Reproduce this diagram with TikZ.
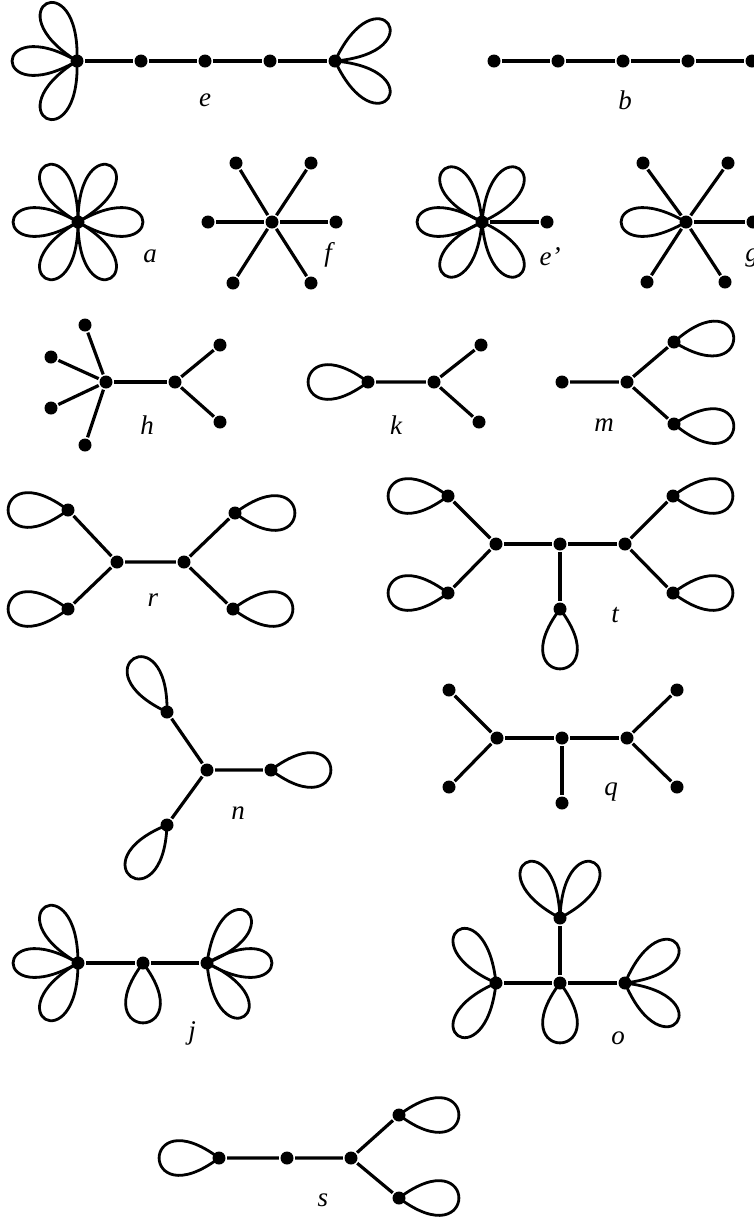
\documentclass[tikz,border=0pt]{standalone}
\usepackage{fontspec}
\setmainfont{Liberation Serif}
% loop at a vertex: [spread]{vertex}{direction}
\newcommand{\lp}[3][30]{\draw[loopline] (#2.center) .. controls +(#3-#1:100) and +(#3+#1:100) .. (#2.center);}

\begin{document}
\begin{tikzpicture}[
    x=0.5pt, y=0.5pt, line width=1.6pt,
    vtx/.style={circle, fill, inner sep=0pt, minimum size=6.5pt},
    loopline/.style={line width=1.4pt},
    lbl/.style={inner sep=0pt, font=\fontsize{13.5}{16}\selectfont\itshape}
  ]
  \useasboundingbox (0,0) rectangle (754,-1217);

  % e
  \foreach \x [count=\i] in {77,141,205,270,335} \node[vtx] (e\i) at (\x,-61) {};
  \draw (e1) -- (e2) -- (e3) -- (e4) -- (e5);
  \foreach \a in {118,180,242} {\lp{e1}{\a}}
  \lp{e5}{35} \lp{e5}{-35}
  \node[lbl] (le) at (205,-100) {e};

  % b
  \foreach \x [count=\i] in {494,558,623,688,752} \node[vtx] (b\i) at (\x,-61) {};
  \draw (b1) -- (b2) -- (b3) -- (b4) -- (b5);
  \node[lbl] (lb) at (625,-100) {b};

  % a
  \node[vtx] (a0) at (78,-222) {};
  \foreach \a in {0,60,...,300} {\lp{a0}{\a}}
  \node[lbl] (la) at (150,-256) {a};

  % f
  \node[vtx] (f0) at (272,-222) {};
  \node[vtx] (f1) at (208,-222) {};
  \node[vtx] (f2) at (336,-222) {};
  \node[vtx] (f3) at (236,-163) {};
  \node[vtx] (f4) at (311,-163) {};
  \node[vtx] (f5) at (233,-283) {};
  \node[vtx] (f6) at (311,-283) {};
  \foreach \i in {1,...,6} \draw (f0) -- (f\i);
  \node[lbl] (lf) at (328,-255) {f};

  % e'
  \node[vtx] (ep0) at (482,-222) {};
  \node[vtx] (ep1) at (547,-222) {};
  \draw (ep0) -- (ep1);
  \foreach \a in {55,125,180,235,305} {\lp{ep0}{\a}}
  \node[lbl] (lep) at (550,-257) {e’};

  % g
  \node[vtx] (g0) at (686,-222) {};
  \node[vtx] (g1) at (643,-163) {};
  \node[vtx] (g2) at (728,-163) {};
  \node[vtx] (g3) at (647,-282) {};
  \node[vtx] (g4) at (725,-282) {};
  \node[vtx] (g5) at (753,-222) {};
  \foreach \i in {1,...,5} \draw (g0) -- (g\i);
  \lp{g0}{180}
  \node[lbl] (lg) at (752,-258) {g};

  % h
  \node[vtx] (h0) at (106,-382) {};
  \node[vtx] (h1) at (175,-382) {};
  \node[vtx] (h2) at (85,-325) {};
  \node[vtx] (h3) at (51,-357) {};
  \node[vtx] (h4) at (51,-408) {};
  \node[vtx] (h5) at (85,-445) {};
  \node[vtx] (h6) at (220,-345) {};
  \node[vtx] (h7) at (220,-422) {};
  \draw (h0) -- (h1);
  \foreach \i in {2,...,5} \draw (h0) -- (h\i);
  \draw (h1) -- (h6) (h1) -- (h7);
  \node[lbl] (lh) at (147,-425) {h};

  % k
  \node[vtx] (k0) at (434,-382) {};
  \node[vtx] (k1) at (368,-382) {};
  \node[vtx] (k2) at (481,-345) {};
  \node[vtx] (k3) at (479,-422) {};
  \draw (k1) -- (k0) -- (k2) (k0) -- (k3);
  \lp[37]{k1}{180}
  \node[lbl] (lk) at (396,-425) {k};

  % m
  \node[vtx] (m0) at (627,-382) {};
  \node[vtx] (m1) at (562,-382) {};
  \node[vtx] (m2) at (674,-342) {};
  \node[vtx] (m3) at (674,-424) {};
  \draw (m1) -- (m0) -- (m2) (m0) -- (m3);
  \lp[37]{m2}{5} \lp[37]{m3}{-3}
  \node[lbl] (lm) at (604,-425) {m};

  % r
  \node[vtx] (r0) at (117,-562) {};
  \node[vtx] (r1) at (184,-562) {};
  \node[vtx] (r2) at (68,-510) {};
  \node[vtx] (r3) at (68,-609) {};
  \node[vtx] (r4) at (235,-513) {};
  \node[vtx] (r5) at (233,-609) {};
  \draw (r0) -- (r1) (r0) -- (r2) (r0) -- (r3) (r1) -- (r4) (r1) -- (r5);
  \lp[37]{r2}{180} \lp[37]{r3}{180} \lp[37]{r4}{0} \lp[37]{r5}{0}
  \node[lbl] (lr) at (153,-600) {r};

  % t
  \node[vtx] (t0) at (560,-544) {};
  \node[vtx] (t1) at (496,-544) {};
  \node[vtx] (t2) at (625,-544) {};
  \node[vtx] (t3) at (448,-496) {};
  \node[vtx] (t4) at (448,-593) {};
  \node[vtx] (t5) at (673,-496) {};
  \node[vtx] (t6) at (673,-593) {};
  \node[vtx] (t7) at (560,-609) {};
  \draw (t1) -- (t0) -- (t2) (t0) -- (t7);
  \draw (t1) -- (t3) (t1) -- (t4) (t2) -- (t5) (t2) -- (t6);
  \lp[37]{t3}{180} \lp[37]{t4}{180} \lp[37]{t5}{0} \lp[37]{t6}{0}
  \lp[37]{t7}{270}
  \node[lbl] (lt) at (615,-615) {t};

  % n
  \node[vtx] (n0) at (207,-770) {};
  \node[vtx] (n1) at (271,-770) {};
  \node[vtx] (n2) at (167,-712) {};
  \node[vtx] (n3) at (167,-825) {};
  \draw (n0) -- (n1) (n0) -- (n2) (n0) -- (n3);
  \lp[37]{n1}{0} \lp[33]{n2}{122} \lp[33]{n3}{235}
  \node[lbl] (ln) at (238,-813) {n};

  % q
  \node[vtx] (q0) at (562,-738) {};
  \node[vtx] (q1) at (497,-738) {};
  \node[vtx] (q2) at (627,-738) {};
  \node[vtx] (q3) at (449,-690) {};
  \node[vtx] (q4) at (449,-787) {};
  \node[vtx] (q5) at (677,-690) {};
  \node[vtx] (q6) at (677,-787) {};
  \node[vtx] (q7) at (562,-803) {};
  \draw (q1) -- (q0) -- (q2) (q0) -- (q7);
  \draw (q1) -- (q3) (q1) -- (q4) (q2) -- (q5) (q2) -- (q6);
  \node[lbl] (lq) at (611,-792) {q};

  % j
  \node[vtx] (j1) at (78,-963) {};
  \node[vtx] (j2) at (143,-963) {};
  \node[vtx] (j3) at (207,-963) {};
  \draw (j1) -- (j2) -- (j3);
  \foreach \a in {120,180,240} {\lp{j1}{\a}}
  \lp[37]{j2}{270}
  \foreach \a in {52,0,-55} {\lp{j3}{\a}}
  \node[lbl] (lj) at (192,-1033) {j};

  % o
  \node[vtx] (o0) at (560,-983) {};
  \node[vtx] (o1) at (560,-918) {};
  \node[vtx] (o2) at (496,-983) {};
  \node[vtx] (o3) at (625,-983) {};
  \draw (o0) -- (o1) (o0) -- (o2) (o0) -- (o3);
  \lp{o1}{122} \lp{o1}{58}
  \lp[37]{o0}{270}
  \lp{o2}{126} \lp{o2}{234}
  \lp{o3}{37} \lp{o3}{-37}
  \node[lbl] (lo) at (618,-1038) {o};

  % s
  \node[vtx] (s1) at (219,-1158) {};
  \node[vtx] (s2) at (287,-1158) {};
  \node[vtx] (s3) at (351,-1158) {};
  \node[vtx] (s4) at (399,-1115) {};
  \node[vtx] (s5) at (399,-1198) {};
  \draw (s1) -- (s2) -- (s3) -- (s4) (s3) -- (s5);
  \lp[37]{s1}{180} \lp[37]{s4}{0} \lp[37]{s5}{0}
  \node[lbl] (ls) at (323,-1200) {s};
\end{tikzpicture}
\end{document}
